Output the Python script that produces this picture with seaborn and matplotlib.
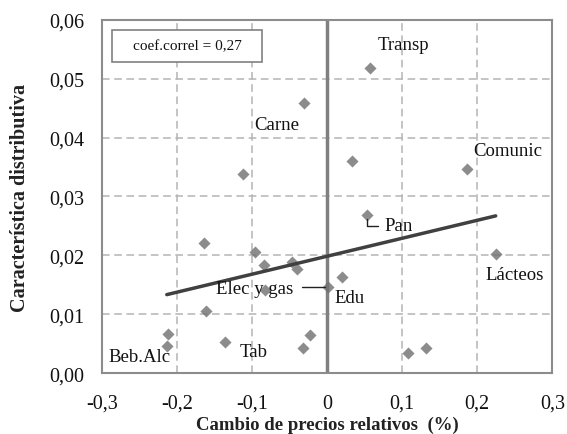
import numpy as np
import pandas as pd
import seaborn as sns
import matplotlib.pyplot as plt
from matplotlib.patches import Rectangle
from matplotlib.ticker import FuncFormatter

# Datos
cambio = [-0.031, -0.113, 0.057, 0.0325, 0.186, 0.0525, 0.2245, 0.0196, 0.001,
          -0.164, -0.097, -0.084, -0.047, -0.040, -0.083, -0.162, -0.213,
          -0.214, -0.136, -0.023, -0.033, 0.1075, 0.1315]
caract = [0.0458, 0.0339, 0.0518, 0.0360, 0.0347, 0.0268, 0.0203, 0.0164, 0.0147,
          0.0221, 0.0206, 0.0183, 0.0189, 0.0177, 0.0141, 0.0105, 0.0067,
          0.0046, 0.0053, 0.0065, 0.0043, 0.0034, 0.0042]

etiquetas = ['Transp', 'Carne', 'Comunic', 'Pan', 'Lácteos', 'Edu',
             'Elec y gas', 'Beb.Alc', 'Tab']
etiq_x = [0.101, -0.068, 0.240, 0.095, 0.250, 0.029, -0.097, -0.250, -0.098]
etiq_y = [0.0558, 0.0422, 0.0378, 0.0250, 0.0168, 0.0129, 0.0144, 0.0029, 0.0036]

correl = '0,27'

df = pd.DataFrame({'x': cambio, 'y': caract})

sns.set_style('white')
plt.rcParams['font.family'] = ['Liberation Serif', 'DejaVu Serif']

fig = plt.figure(figsize=(5.67, 4.35), dpi=100)
ax = fig.add_axes([0.1804, 0.140, 0.7937, 0.812])

ax.axvline(0, color='#808080', lw=2.5, zorder=2)
sns.regplot(x='x', y='y', data=df, ci=None, ax=ax, marker='D',
            scatter_kws={'s': 38, 'color': '#707070', 'zorder': 3, 'linewidths': 0},
            line_kws={'color': '#404040', 'lw': 2.5, 'zorder': 4})

for t, tx, ty in zip(etiquetas, etiq_x, etiq_y):
    ax.text(tx, ty, t, fontsize=13.5, ha='center', va='center', color='#111111', zorder=5)

# lineas guia
ax.plot([0.053, 0.053, 0.068], [0.0262, 0.0250, 0.0250], color='#222222', lw=1, zorder=5)
ax.plot([-0.034, -0.003], [0.0147, 0.0147], color='#222222', lw=1, zorder=5)

# recuadro del coeficiente
ax.add_patch(Rectangle((-0.2875, 0.05286), 0.2004, 0.00544, fc='white', ec='#808080',
                       lw=1.2, zorder=6))
ax.text(-0.187, 0.0556, 'coef.correl = ' + correl, fontsize=11, ha='center', va='center',
        color='#111111', zorder=7)

ax.set_xlim(-0.3, 0.3)
ax.set_ylim(0, 0.06)
ax.set_xticks(np.arange(-0.3, 0.31, 0.1))
ax.set_yticks(np.arange(0, 0.061, 0.01))
ax.xaxis.set_major_formatter(FuncFormatter(lambda v, p: '0' if abs(v) < 1e-9 else f'{v:.1f}'.replace('.', ',')))
ax.yaxis.set_major_formatter(FuncFormatter(lambda v, p: f'{v:.2f}'.replace('.', ',')))
ax.tick_params(labelsize=14.5, length=0, colors='#111111')
ax.tick_params(axis='y', pad=13)
ax.tick_params(axis='x', pad=15)

ax.grid(True, ls=(0, (5, 3)), color='#b4b4b4', lw=1.1)
ax.set_axisbelow(True)
for s in ax.spines.values():
    s.set_color('#8c8c8c')
    s.set_linewidth(1.5)

ax.set_xlabel('Cambio de precios relativos  (%)', fontsize=13.5, fontweight='bold', color='#222222', labelpad=2)
ax.set_ylabel('Característica distributiva', fontsize=14.5, fontweight='bold', color='#222222', labelpad=14)

plt.savefig('out.png', dpi=100)
